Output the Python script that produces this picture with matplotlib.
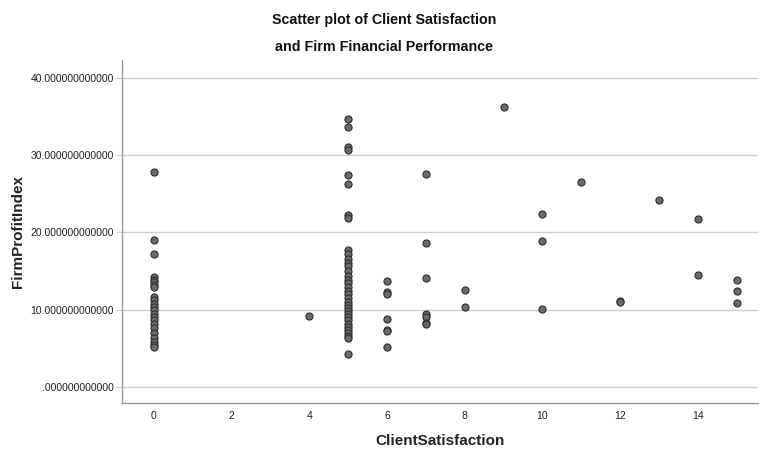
import numpy as np
import matplotlib
matplotlib.use("Agg")
from matplotlib import pyplot as plt
from matplotlib.ticker import FuncFormatter

plt.rcParams['font.family'] = ['Liberation Sans', 'DejaVu Sans']

# satisfaction score -> profit index values observed at that score
satisfaction_levels = [0, 4, 5, 6, 7, 8, 9, 10, 11, 12, 13, 14, 15]
profit_by_level = [
    [27.8, 19.0, 17.2, 14.2, 13.9, 13.6, 13.2, 12.9, 11.7, 11.2, 10.7, 10.3,
     9.9, 9.5, 9.1, 8.6, 8.1, 7.6, 7.0, 6.4, 5.8, 5.4, 5.2],
    [9.2],
    [34.6, 33.6, 31.0, 30.6, 27.4, 26.2, 22.3, 21.9, 17.7, 17.2, 16.6, 16.0,
     15.6, 15.0, 14.4, 13.9, 13.4, 12.9, 12.4, 12.0, 11.5, 11.0, 10.6, 10.2,
     9.8, 9.4, 9.0, 8.6, 8.2, 7.8, 7.4, 7.0, 6.6, 6.3, 4.3],
    [13.7, 12.3, 12.0, 8.8, 7.4, 7.2, 5.2],
    [27.6, 18.6, 14.1, 9.4, 9.1, 8.3, 8.1],
    [12.6, 10.4],
    [36.2],
    [22.4, 18.9, 10.1],
    [26.5],
    [11.1, 11.0],
    [24.2],
    [21.7, 14.5],
    [13.9, 12.4, 10.8],
]

x = np.concatenate([[lvl] * len(v) for lvl, v in zip(satisfaction_levels, profit_by_level)])
y = np.concatenate(profit_by_level)

fig = plt.figure(figsize=(7.6, 4.5), dpi=100)
ax = fig.add_axes([0.1605, 0.1044, 0.837, 0.7626])

ax.scatter(x, y, s=26, facecolor='#6b6b6b', edgecolor='#2e2e2e', linewidth=0.8, zorder=3)

ax.set_xlim(-0.82, 15.55)
ax.set_ylim(-2.07, 42.3)
ax.set_xticks(range(0, 16, 2))
ax.set_yticks([0, 10, 20, 30, 40])

def fmt(v, pos):
    s = f"{v:.12f}"
    return s[1:] if s.startswith("0") else s

ax.yaxis.set_major_formatter(FuncFormatter(fmt))
ax.grid(axis='y', color='#cfcfcf', linewidth=1.0, zorder=0)
ax.set_axisbelow(True)

for side in ('top', 'right'):
    ax.spines[side].set_visible(False)
for side in ('left', 'bottom'):
    ax.spines[side].set_color('#9a9a9a')
    ax.spines[side].set_linewidth(1.0)

ax.tick_params(axis='y', length=4, color='#cfcfcf', labelsize=7.5, labelcolor='#222222', pad=2)
ax.tick_params(axis='x', length=0, labelsize=7.5, labelcolor='#222222', pad=6)

ax.set_xlabel('ClientSatisfaction', fontsize=11, fontweight='bold', color='#222222')
ax.set_ylabel('FirmProfitIndex', fontsize=11, fontweight='bold', color='#222222')
ax.xaxis.set_label_coords(0.5, -0.09)
ax.yaxis.set_label_coords(-0.153, 0.5)

fig.text(0.505, 0.955, 'Scatter plot of Client Satisfaction', ha='center', va='center',
         fontsize=10.3, fontweight='bold', color='#111111')
fig.text(0.505, 0.895, 'and Firm Financial Performance', ha='center', va='center',
         fontsize=10.3, fontweight='bold', color='#111111')

fig.savefig('out.png', dpi=100)
